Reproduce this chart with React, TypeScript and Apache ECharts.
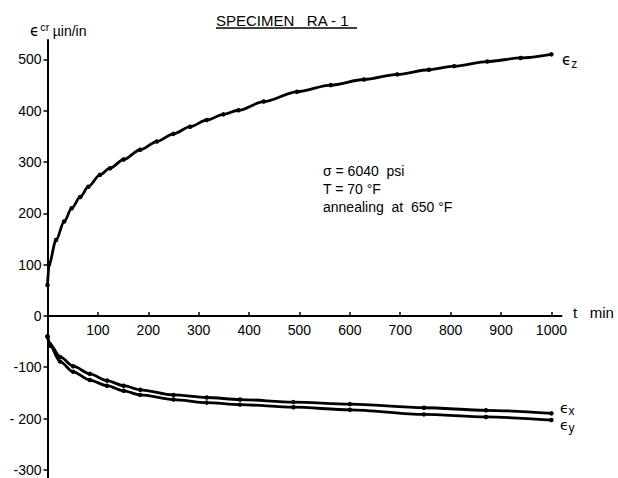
import React, { useEffect, useRef } from "react";
import * as echarts from "echarts";

// time (min) and creep strain (µin/in)
const tZ = [0, 3, 17, 33, 48, 65, 81, 104, 124, 151, 184, 217, 250, 283, 316, 349, 379, 429, 495, 562, 628, 694, 757, 807, 873, 939, 1000];
const epsZ = [60, 100, 148, 184, 210, 232, 252, 275, 288, 305, 324, 340, 355, 369, 382, 393, 401, 418, 437, 450, 461, 471, 480, 487, 496, 503, 510];

const tXY = [0, 5, 25, 51, 84, 118, 151, 184, 250, 316, 382, 488, 600, 747, 870, 1000];
const epsX = [-40, -55, -80, -98, -113, -126, -136, -144, -154, -159, -163, -168, -172, -179, -184, -190];
const epsY = [-40, -58, -89, -109, -125, -136, -146, -154, -163, -169, -173, -178, -183, -192, -197, -203];

const xTicks = [100, 200, 300, 400, 500, 600, 700, 800, 900, 1000];
const yTicks = [-300, -200, -100, 0, 100, 200, 300, 400, 500];
const yTickLabels = ["-300", "- 200", "-100", "0", "100", "200", "300", "400", "500"];

const FONT = "'Liberation Sans', Arial, sans-serif";
const EPS_FONT = "'DejaVu Sans', sans-serif";

function pairs(t: number[], v: number[]) {
  return t.map((x, i) => [x, v[i]]);
}

export default function App() {
  const ref = useRef<HTMLDivElement>(null);
  useEffect(() => {
    document.body.style.margin = "0";
    if (!ref.current) return;
    const chart = echarts.init(ref.current, undefined, { renderer: "svg" });
    const lineSeries = (name: string, data: number[][]) => ({
      name,
      type: "line",
      data,
      smooth: 0.3,
      smoothMonotone: "x",
      symbol: "circle",
      symbolSize: 4.5,
      showSymbol: true,
      lineStyle: { color: "#000", width: 2.8 },
      itemStyle: { color: "#000" },
      z: 3,
    });
    const baseGraphic: any[] = [
      {
        type: "text",
        x: 216,
        y: 20,
        style: { text: "SPECIMEN   RA - 1", font: `15px ${FONT}`, fill: "#000", verticalAlign: "middle" },
      },
      { type: "line", shape: { x1: 216, y1: 28, x2: 357, y2: 28 }, style: { stroke: "#000", lineWidth: 1.5 } },
      {
        type: "text",
        x: 30,
        y: 31,
        style: {
          text: "{e|ϵ}{s|cr} {u|µin/in}",
          verticalAlign: "middle",
          rich: {
            e: { fontFamily: EPS_FONT, fontSize: 15, fill: "#000" },
            s: { fontFamily: FONT, fontSize: 11, fill: "#000", verticalAlign: "bottom", padding: [0, 0, 8, 1] },
            u: { fontFamily: FONT, fontSize: 14, fill: "#000" },
          },
        },
      },
      {
        type: "text",
        x: 562,
        y: 60,
        style: {
          text: "{e|ϵ}{s|z}",
          verticalAlign: "middle",
          rich: {
            e: { fontFamily: EPS_FONT, fontSize: 15, fill: "#000" },
            s: { fontFamily: FONT, fontSize: 12, fill: "#000", padding: [8, 0, 0, 0] },
          },
        },
      },
      {
        type: "text",
        x: 560,
        y: 408,
        style: {
          text: "{e|ϵ}{s|x}",
          verticalAlign: "middle",
          rich: {
            e: { fontFamily: EPS_FONT, fontSize: 14, fill: "#000" },
            s: { fontFamily: FONT, fontSize: 12, fill: "#000", padding: [6, 0, 0, 0] },
          },
        },
      },
      {
        type: "text",
        x: 560,
        y: 425,
        style: {
          text: "{e|ϵ}{s|y}",
          verticalAlign: "middle",
          rich: {
            e: { fontFamily: EPS_FONT, fontSize: 14, fill: "#000" },
            s: { fontFamily: FONT, fontSize: 12, fill: "#000", padding: [6, 0, 0, 0] },
          },
        },
      },
      {
        type: "text",
        x: 573,
        y: 312,
        style: { text: "t   min", font: `15px ${FONT}`, fill: "#000", verticalAlign: "middle" },
      },
      {
        type: "text",
        x: 323,
        y: 171,
        style: { text: "σ = 6040  psi", font: `14px ${FONT}`, fill: "#000", verticalAlign: "middle" },
      },
      {
        type: "text",
        x: 323,
        y: 189,
        style: { text: "T = 70 °F", font: `14px ${FONT}`, fill: "#000", verticalAlign: "middle" },
      },
      {
        type: "text",
        x: 323,
        y: 207,
        style: { text: "annealing  at  650 °F", font: `14px ${FONT}`, fill: "#000", verticalAlign: "middle" },
      },
    ];
    chart.setOption({
      animation: false,
      backgroundColor: "#fff",
      grid: { left: 47.5, right: 56.5, top: 40, bottom: 0, containLabel: false, outerBoundsMode: "none" },
      xAxis: {
        type: "value",
        min: 0,
        max: 1020,
        splitLine: { show: false },
        axisLine: { show: true, onZero: true, lineStyle: { color: "#000", width: 2 } },
        axisTick: { show: true, inside: true, length: 4, customValues: xTicks, lineStyle: { color: "#000", width: 1.5 } },
        axisLabel: { show: false },
      },
      yAxis: {
        type: "value",
        min: -316,
        max: 538,
        splitLine: { show: false },
        axisLine: { show: true, lineStyle: { color: "#000", width: 2 } },
        axisTick: { show: true, inside: false, length: 4, customValues: yTicks, lineStyle: { color: "#000", width: 1.5 } },
        axisLabel: {
          customValues: yTicks,
          margin: 6,
          color: "#000",
          fontSize: 14,
          fontFamily: FONT,
          formatter: (v: number) => {
            const i = yTicks.indexOf(Math.round(v));
            return i >= 0 ? yTickLabels[i] : "";
          },
        },
      },
      series: [
        lineSeries("εz", pairs(tZ, epsZ)),
        lineSeries("εx", pairs(tXY, epsX)),
        lineSeries("εy", pairs(tXY, epsY)),
      ],
      graphic: baseGraphic,
    });
    // x-axis tick labels placed just below the zero line, via the axis scale
    const y0 = chart.convertToPixel({ yAxisIndex: 0 }, 0) as number;
    const xLabels = xTicks.map((v) => ({
      type: "text",
      x: chart.convertToPixel({ xAxisIndex: 0 }, v) as number,
      y: y0 + 7,
      style: { text: String(v), font: `14px ${FONT}`, fill: "#000", align: "center", verticalAlign: "top" },
    }));
    chart.setOption({ graphic: [...baseGraphic, ...xLabels] });
    return () => chart.dispose();
  }, []);
  return <div ref={ref} style={{ width: 618, height: 478 }} />;
}
